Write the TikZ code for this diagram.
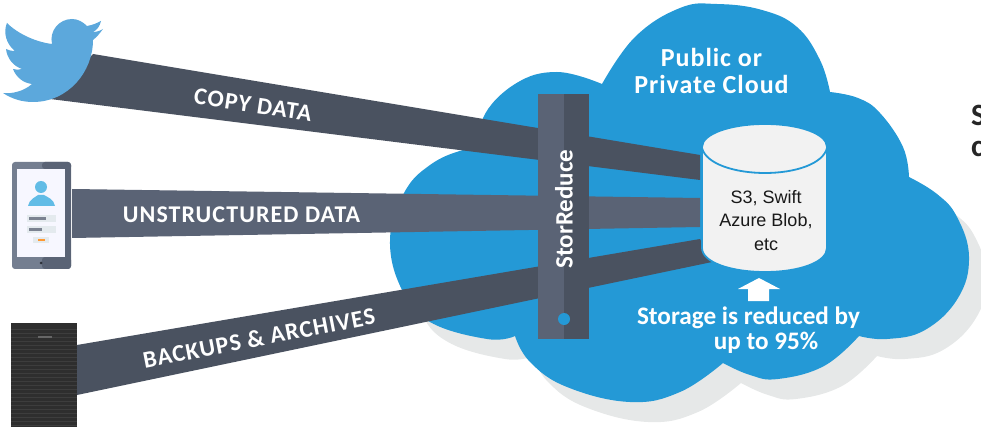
\documentclass[tikz,border=0pt]{standalone}
\usepackage{fontspec}
\setmainfont{Carlito}
\newfontfamily\cylfont{Liberation Sans}
\newfontfamily\spacedfont[LetterSpace=4.5,BoldFont={Carlito Bold}]{Carlito}
\newfontfamily\cloudfont[LetterSpace=3.7,BoldFont={Carlito Bold}]{Carlito}
\definecolor{cloudblue}{HTML}{2499D6}
\definecolor{shadowgrey}{HTML}{E6E8E8}
\definecolor{banddark}{HTML}{4A5260}
\definecolor{bandlight}{HTML}{5A6375}
\definecolor{birdblue}{HTML}{5CA8DC}
\definecolor{cylfill}{HTML}{F2F2F2}
\definecolor{phoneleft}{HTML}{747E90}
\definecolor{personblue}{HTML}{62BCE6}
\definecolor{fieldgrey}{HTML}{E4EAEE}
\newcommand{\cloudoutline}{
  plot[smooth,tension=.7] coordinates {(602,84) (635,37) (680,8) (717,4) (762,10) (797,27) (820,60) (830,92)}
  -- plot[smooth,tension=.7] coordinates {(830,92) (858,98) (880,113) (903,147) (909,177)}
  -- plot[smooth,tension=.7] coordinates {(909,177) (937,194) (957,217) (969,257) (958,298) (925,330) (887,339) (859,336)}
  -- plot[smooth,tension=.7] coordinates {(859,336) (824,366) (778,379) (750,375) (723,363)}
  -- plot[smooth,tension=.7] coordinates {(723,363) (680,392) (630,402) (567,387) (530,362) (515,336)}
  -- plot[smooth,tension=.7] coordinates {(515,336) (487,339) (430,322) (402,290) (390,240) (404,193) (430,165) (463,150) (487,148)}
  -- plot[smooth,tension=.7] coordinates {(487,148) (483,118) (515,84) (557,72) (602,84)}
  -- cycle}
\tikzset{
  bandA/.style={fill=banddark},
  bandB/.style={fill=bandlight},
  bandlabel/.style={text=white,font=\spacedfont\fontsize{24}{26}\selectfont\bfseries,inner sep=0pt},
  cloudtext/.style={text=white,font=\cloudfont\fontsize{26}{27}\selectfont\bfseries,align=center,inner sep=0pt},
  reducetext/.style={text=white,font=\fontsize{25.2}{26}\selectfont\bfseries,align=center,inner sep=0pt},
  cyltext/.style={text=black!90,font=\cylfont\fontsize{18}{23.5}\selectfont,align=center,inner sep=0pt},
  sidetext/.style={text=black!85,font=\fontsize{31}{33}\selectfont\bfseries,anchor=west,inner sep=0pt},
}
\begin{document}
\begin{tikzpicture}[x=1pt,y=-1pt]
\useasboundingbox (0,0) rectangle (981,427);
% cloud with shadow
\begin{scope}
\clip (0,205) rectangle (981,427);
\fill[shadowgrey,shift={(18,20)}] \cloudoutline;
\end{scope}
\fill[cloudblue] \cloudoutline;
% bands
\fill[bandA] (50,99) -- (93,54) -- (700,155) -- (700,180) -- cycle;
\fill[bandB] (72,189) -- (700,198) -- (700,227) -- (72,238) -- cycle;
\fill[bandA] (77,345) -- (700,239) -- (712,262) -- (77,395) -- cycle;
% StorReduce bar
\fill[bandB] (538,94) rectangle (564,339);
\fill[banddark] (564,94) rectangle (589,339);
\fill[cloudblue] (564,319) circle (6);
\node[rotate=90,text=white,font=\fontsize{25}{27}\selectfont\bfseries,inner sep=0pt] (bar) at (564,209) {StorReduce};
% cylinder
\path[fill=cylfill,draw=cloudblue,line width=1.8pt] (702,147) -- (702,248) .. controls (702,262) and (730,272) .. (765,272) .. controls (800,272) and (827,262) .. (827,248) -- (827,147) .. controls (827,134) and (800,124) .. (765,124) .. controls (730,124) and (702,134) .. (702,147) -- cycle;
\draw[cloudblue,line width=1.8pt] (702,148) .. controls (706,164) and (735,173) .. (765,173) .. controls (795,173) and (823,164) .. (827,148);
\node[cyltext] (cyl) at (766,220.5) {S3, Swift\\Azure Blob,\\etc};
% arrow
\fill[white] (759,278) -- (780,289) -- (769,289) -- (769,301) -- (748,301) -- (748,289) -- (738,289) -- cycle;
% text in cloud
\node[cloudtext] (pub) at (711.5,71) {Public or\\Private Cloud};
\node[reducetext] (red1) at (748.5,317.5) {Storage is reduced by};
\node[reducetext] (red2) at (766,342.5) {up to 95\%};
\node[sidetext] (s1) at (971,115) {S};
\node[sidetext] (s2) at (971,149) {c};
% band labels
\node[bandlabel,rotate=-8.5] (copy) at (253,105) {COPY DATA};
\node[bandlabel] (uns) at (241.5,215) {UNSTRUCTURED DATA};
\node[bandlabel,rotate=11] (back) at (259,338) {BACKUPS \& ARCHIVES};
% bird
\fill[birdblue] (52,44) .. controls (36,42) and (18,34) .. (7,23)
  .. controls (3,32) and (6,44) .. (15,51) .. controls (11,51) and (8,50) .. (6,49)
  .. controls (7,58) and (13,66) .. (22,69) .. controls (19,70) and (16,70) .. (13,69)
  .. controls (16,77) and (23,83) .. (32,84) .. controls (24,91) and (13,94) .. (3,93)
  .. controls (12,99) and (22,102) .. (33,102) .. controls (68,102) and (93,72) .. (93,40)
  .. controls (97,37) and (100,33) .. (103,29) .. controls (100,31) and (96,32) .. (93,32)
  .. controls (97,30) and (100,26) .. (101,21) .. controls (97,23) and (93,25) .. (87,26)
  .. controls (83,22) and (78,19) .. (72,19) .. controls (59,19) and (49,31) .. (52,44) -- cycle;
% phone
\fill[phoneleft,rounded corners=3pt] (12,162) rectangle (71,269);
\fill[bandlight,rounded corners=3pt] (42,162) rectangle (71,169) -- cycle;
\fill[bandlight,rounded corners=3pt] (42,257) rectangle (71,269);
\fill[bandlight] (65,165) rectangle (71,265);
\fill[white!97!blue] (17,169) rectangle (65,257);
\fill[personblue] (41,187) circle (6);
\fill[personblue] (28,206) .. controls (29,199) and (36,197) .. (38,195) -- (44,195) .. controls (47,197) and (54,199) .. (55,206) -- cycle;
\fill[fieldgrey] (27,215) rectangle (56,222);
\fill[fieldgrey] (27,226) rectangle (56,233);
\fill[bandlight!80] (29,217) rectangle (46,220);
\fill[bandlight!80] (29,228) rectangle (42,231);
\fill[fieldgrey] (33,237) rectangle (49,243);
\fill[orange!80] (38,239) rectangle (45,241);
\fill[bandlight!50!black] (41,263) circle (1.5);
% server
\fill[black!82] (11,323) rectangle (77,427);
\foreach \yy in {329,333,...,425} {\draw[black!76,line width=.8pt] (11,\yy) -- (77,\yy);}
\fill[black!60] (38,336) rectangle (52,338);
\end{tikzpicture}
\end{document}
